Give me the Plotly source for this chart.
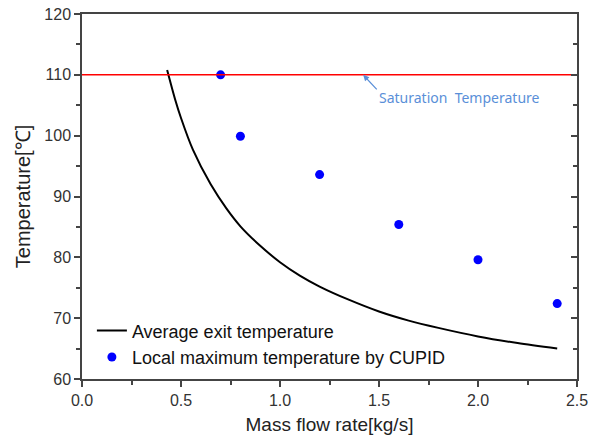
import plotly.graph_objects as go

# Average exit temperature (solid curve)
flow_avg = [0.43, 0.47, 0.50, 0.56, 0.65, 0.73, 0.80, 0.90, 1.00, 1.10, 1.20, 1.35, 1.50,
            1.65, 1.80, 2.00, 2.20, 2.40]
temp_avg = [110.8, 106.0, 102.9, 97.7, 92.0, 88.0, 85.1, 81.9, 79.2, 77.0, 75.2, 73.0, 71.1,
            69.6, 68.4, 67.0, 65.9, 65.0]

# Local maximum temperature by CUPID (blue dots)
flow_cupid = [0.7, 0.8, 1.2, 1.6, 2.0, 2.4]
temp_cupid = [110.0, 99.9, 93.6, 85.4, 79.6, 72.4]

# Saturation temperature line
sat_x = [0.0, 2.5]
sat_y = [110.0, 110.0]

axis_col = "#444444"
label_col = "#5a8fd8"
font_fam = "Liberation Sans, Arial, sans-serif"

fig = go.Figure()

# drawn on y2 so the right-hand (inward tick) axis gets rendered
fig.add_trace(go.Scatter(
    x=sat_x, y=sat_y, mode="lines", yaxis="y2",
    line=dict(color="#ff0000", width=1.5),
    showlegend=False, hoverinfo="skip"
))

fig.add_trace(go.Scatter(
    x=flow_avg, y=temp_avg, mode="lines",
    name="Average exit temperature",
    line=dict(color="black", width=2, shape="spline", smoothing=0.8)
))

fig.add_trace(go.Scatter(
    x=flow_cupid, y=temp_cupid, mode="markers",
    name="Local maximum temperature by CUPID",
    marker=dict(color="#0000ff", size=9)
))

# arrow and label for the saturation line
fig.add_annotation(
    x=1.42, y=110, xref="x", yref="y", text="",
    showarrow=True, arrowhead=2, arrowsize=1, arrowwidth=1.2,
    arrowcolor=label_col, ax=15, ay=16
)
fig.add_annotation(
    x=1.49, y=106.2, xref="x", yref="y",
    text="Saturation  Temperature", showarrow=False,
    xanchor="left", yanchor="middle",
    font=dict(family="Noto Sans, sans-serif", size=14, color=label_col)
)

fig.update_xaxes(
    range=[0, 2.5], dtick=0.5, tickformat=".1f", automargin=False,
    showline=True, linecolor=axis_col, linewidth=1.5, mirror=True,
    ticks="outside", ticklen=6, tickwidth=1.5, tickcolor=axis_col,
    minor=dict(dtick=0.25, ticks="outside", ticklen=4, tickwidth=1.5, tickcolor=axis_col),
    showgrid=False, zeroline=False,
    tickfont=dict(size=16, color="#333333"),
    title=dict(text="Mass flow rate[kg/s]", font=dict(size=19, color="#222222"), standoff=10)
)
fig.update_layout(
    yaxis=dict(
        range=[60, 120], dtick=10, automargin=False,
        showline=True, linecolor=axis_col, linewidth=1.5, mirror=True,
        ticks="outside", ticklen=6, tickwidth=1.5, tickcolor=axis_col,
        minor=dict(dtick=5, ticks="outside", ticklen=4, tickwidth=1.5, tickcolor=axis_col),
        showgrid=False, zeroline=False,
        tickfont=dict(size=16, color="#333333"),
        title=dict(text="Temperature[℃]", font=dict(size=20, color="#222222"), standoff=8)
    ),
    # right-hand axis carries inward ticks only
    yaxis2=dict(
        overlaying="y", side="right", anchor="x", range=[60, 120], dtick=10,
        automargin=False, showticklabels=False, showgrid=False, zeroline=False,
        showline=False,
        ticks="inside", ticklen=6, tickwidth=1.5, tickcolor=axis_col,
        minor=dict(dtick=5, ticks="inside", ticklen=4, tickwidth=1.5, tickcolor=axis_col)
    ),
    width=597, height=443,
    margin=dict(l=82, r=20, t=14, b=64),
    plot_bgcolor="white", paper_bgcolor="white",
    font=dict(family=font_fam),
    legend=dict(
        x=0.02, y=0.01, xanchor="left", yanchor="bottom",
        bgcolor="rgba(0,0,0,0)", font=dict(size=18, color="#111111"),
        tracegroupgap=0
    )
)

# drop the default body margin so the figure sits at the window origin
fig.write_html("out.html", config={"displayModeBar": False},
               post_script="document.body.style.margin='0';")
